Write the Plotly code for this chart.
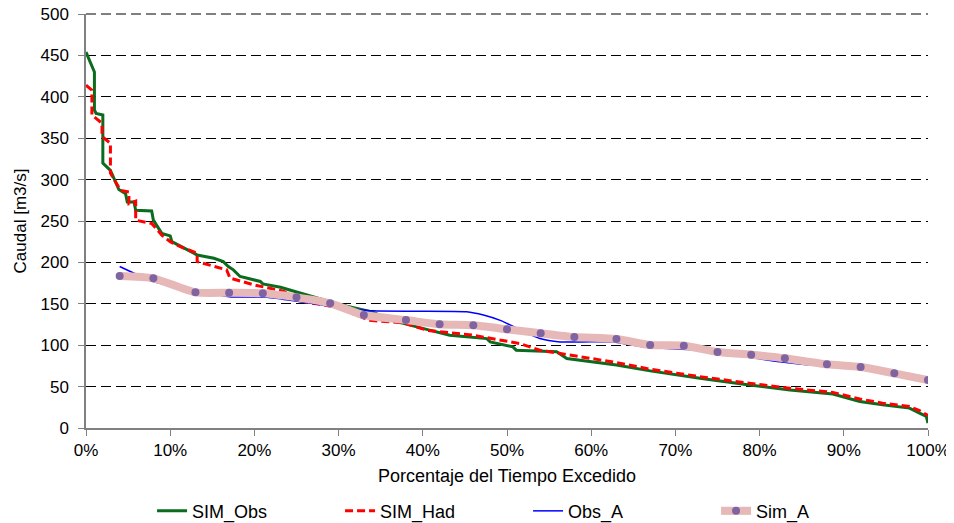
import plotly.graph_objects as go

# curvas de duracion de caudales (x en % del tiempo excedido, y en m3/s)
sim_obs_x = [0, 1.0, 1.0, 1.2, 2.0, 2.0, 2.9, 3.3, 3.9, 4.7, 4.9, 5.7, 5.9, 7.8, 8.0, 9.0, 10.0, 10.2,
             12.2, 13.2, 15.2, 16.3, 16.9, 17.5, 18.3, 20.7, 21.0, 23.1, 24.1, 27.0, 29.8, 31.0, 34.1,
             36.0, 38.0, 40.1, 43.2, 46.0, 47.6, 48.0, 50.7, 51.1, 55.9, 57.1, 59.5, 63.0, 67.0, 72.9,
             78.8, 83.6, 88.7, 91.9, 94.6, 97.8, 99.0, 99.8, 100]
sim_obs_y = [454, 430, 384, 380, 378, 320, 311, 302, 288, 283, 273, 273, 263, 262, 251, 235, 232, 225,
             215, 209, 205, 201, 195, 191, 183, 177, 174, 170, 167, 158, 150, 147, 140,
             131, 126, 120, 112, 110, 108, 104, 98, 94, 92, 84, 81, 76, 69, 60,
             52, 46, 41, 32, 28, 24, 18, 14, 6]

sim_had_x = [0, 0.7, 0.7, 1.9, 1.9, 2.9, 2.9, 4.1, 5.1, 5.1, 5.9, 5.9, 7.8, 9.0, 10.0, 11.2, 13.2, 13.2,
             16.7, 17.1, 19.9, 23.5, 26.0, 28.0, 30.0, 33.7, 37.7, 40.5, 46.0, 51.5, 53.9, 58.7, 63.0,
             67.0, 72.9, 78.8, 83.6, 88.7, 91.9, 94.6, 97.8, 99.0, 100]
sim_had_y = [414, 408, 378, 368, 352, 344, 308, 287, 285, 271, 274, 251, 247, 233, 225, 219, 211, 201,
             191, 181, 173, 165, 152, 149, 145, 130, 127, 118, 112, 102, 94, 86, 79,
             71, 62, 54, 48, 43, 35, 30, 26, 21, 15]

obs_a_x = [4.0, 8.0, 13.0, 17.0, 21.5, 25.4, 29.4, 34.1, 45.2, 47.2, 49.2, 51.2, 53.9, 56.3, 59.0,
           62.6, 66.6, 72.5, 78.4, 82.4, 86.3, 88.0]
obs_a_y = [195, 177, 166.5, 158.5, 158, 152.5, 146.5, 141.5, 140.5, 136.5, 130, 120.4, 108, 104, 104,
           104, 97.4, 94, 86, 80, 76, 76]

sim_a_x = [4, 8, 13, 17, 21, 25, 29, 33, 38, 42, 46, 50, 54, 58, 63, 67, 71, 75, 79, 83, 88, 92, 96, 100]
sim_a_y = [183.6, 180.8, 163.8, 163.4, 162.7, 157.8, 150.6, 136.5, 130.4, 125.2, 124, 119.2, 114.4,
           109.9, 107.5, 100.2, 99.4, 91.8, 88.5, 84.2, 76.9, 73.7, 66, 58]

fig = go.Figure()
fig.add_trace(go.Scatter(x=sim_obs_x, y=sim_obs_y, name="SIM_Obs", mode="lines",
                         line=dict(color="#0B6B1E", width=3)))
fig.add_trace(go.Scatter(x=sim_had_x, y=sim_had_y, name="SIM_Had", mode="lines",
                         line=dict(color="#FF0000", width=3, dash="8px,4px")))
fig.add_trace(go.Scatter(x=obs_a_x, y=obs_a_y, name="Obs_A", mode="lines",
                         line=dict(color="#0000FF", width=1.5, shape="spline", smoothing=0.6)))
fig.add_trace(go.Scatter(x=sim_a_x, y=sim_a_y, name="Sim_A", mode="lines+markers",
                         line=dict(color="#E6B9B8", width=8, shape="spline", smoothing=0.6),
                         marker=dict(color="#8064A2", size=8)))

# la pagina tiene 8px de margen en el body, por eso 946x515
fig.update_layout(
    width=946, height=515,
    margin=dict(l=77.5, r=25.5, t=6, b=95, autoexpand=False),
    plot_bgcolor="white", paper_bgcolor="white",
    font=dict(family="Liberation Sans, Arial", size=17, color="black"),
    legend=dict(orientation="h", xref="paper", x=0.525, xanchor="center",
                yref="container", y=0.023, yanchor="middle",
                entrywidth=143, font=dict(size=18)),
)
# linea de grilla de 500 (plotly no la dibuja en el borde)
fig.add_shape(type="line", xref="paper", yref="paper", x0=0, x1=1, y0=1, y1=1,
              line=dict(color="black", width=1, dash="10px,5px"), layer="below")
fig.update_xaxes(range=[0, 100], tick0=0, dtick=10, ticksuffix="%",
                 showline=True, linecolor="#808080", linewidth=1.5,
                 ticks="outside", tickcolor="#808080", ticklen=6,
                 showgrid=False, zeroline=False,
                 title=dict(text="Porcentaje del Tiempo Excedido", font=dict(size=18), standoff=10))
fig.update_yaxes(range=[0, 500], tick0=0, dtick=50, ticklabeloverflow="allow",
                 showline=True, linecolor="#808080", linewidth=1.5,
                 ticks="outside", tickcolor="#808080", ticklen=6, ticklabelstandoff=6,
                 showgrid=True, gridcolor="black", griddash="10px,5px", gridwidth=1,
                 zeroline=False,
                 title=dict(text="Caudal [m3/s]", font=dict(size=17), standoff=10))

fig.write_html("out.html")
